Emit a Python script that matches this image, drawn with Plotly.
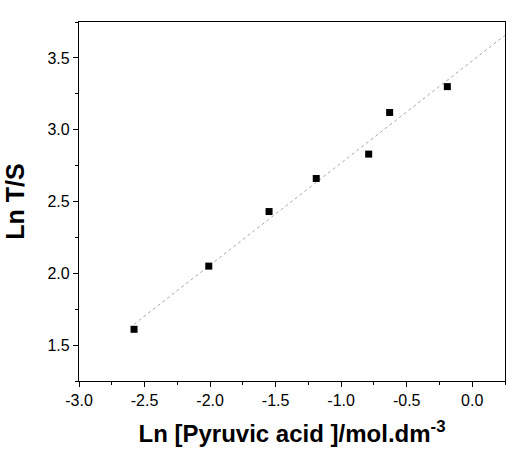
import numpy as np
import plotly.graph_objects as go

# Data read from the (slightly rotated) scanned chart, in the chart's own frame
ln_pyruvic = [-2.58, -2.01, -1.55, -1.19, -0.79, -0.63, -0.19]
ln_ts = [1.61, 2.05, 2.43, 2.66, 2.83, 3.12, 3.30]

x_range = [-3.0, 0.25]
y_range = [1.25, 3.75]
x_tickvals = [-3.0, -2.5, -2.0, -1.5, -1.0, -0.5, 0.0]
x_ticktext = ["-3.0", "-2.5", "-2.0", "-1.5", "-1.0", "-0.5", "0.0"]
y_tickvals = [1.5, 2.0, 2.5, 3.0, 3.5]
y_ticktext = ["1.5", "2.0", "2.5", "3.0", "3.5"]

# Linear fit (drawn as a faint dotted line, from first point to axis edge)
slope, intercept = np.polyfit(ln_pyruvic, ln_ts, 1)
fit_x = np.array([ln_pyruvic[0], x_range[1]])
fit_y = slope * fit_x + intercept

fig = go.Figure()
fig.add_trace(go.Scatter(
    x=fit_x, y=fit_y, mode="lines",
    line=dict(color="#a8a8a8", width=1, dash="dot"),
    showlegend=False, hoverinfo="skip",
))
fig.add_trace(go.Scatter(
    x=ln_pyruvic, y=ln_ts, mode="markers",
    marker=dict(symbol="square", size=7, color="black"),
    showlegend=False,
))

font_family = "Liberation Sans, Arial, sans-serif"
axis_common = dict(
    showgrid=False, zeroline=False, showline=True, linecolor="black",
    linewidth=1.3, mirror=True, ticks="outside", ticklen=5, tickwidth=1,
    tickcolor="black", tickfont=dict(family=font_family, size=16, color="black"),
)

fig.update_layout(
    width=514, height=463,
    margin=dict(l=79, r=9, t=22, b=82),
    paper_bgcolor="white", plot_bgcolor="white",
    font=dict(family=font_family, color="black"),
    xaxis=dict(
        range=x_range, tickvals=x_tickvals, ticktext=x_ticktext,
        minor=dict(ticks="outside", ticklen=3, dtick=0.25, tickcolor="black"),
        title=dict(text="<b>Ln [Pyruvic acid ]/mol.dm<sup>-3</sup></b>",
                   font=dict(family=font_family, size=24, color="black"),
                   standoff=16),
        **axis_common,
    ),
    yaxis=dict(
        range=y_range, tickvals=y_tickvals, ticktext=y_ticktext,
        minor=dict(ticks="outside", ticklen=3, dtick=0.25, tickcolor="black"),
        title=dict(text="<b>Ln T/S</b>",
                   font=dict(family=font_family, size=25, color="black")),
        **axis_common,
    ),
)

fig.write_html("out.html")
